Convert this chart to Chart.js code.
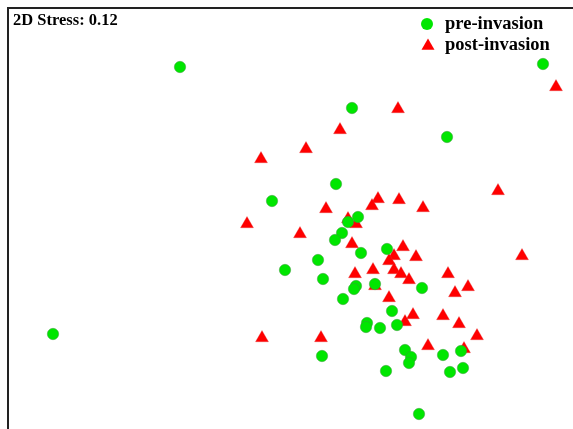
<!DOCTYPE html>
<html>
<head>
<meta charset="utf-8">
<script src="https://cdn.jsdelivr.net/npm/chart.js@4/dist/chart.umd.min.js"></script>
<style>
  html, body { margin: 0; padding: 0; background: #fff; }
  #wrap { width: 573px; height: 429px; }
</style>
</head>
<body>
<div id="wrap"><canvas id="nmds" width="573" height="429"></canvas></div>
<script>
// NMDS ordination scores (arbitrary units)
const preX = [-1.20, 2.43, 0.52, 1.47, 0.36, -0.28, 0.58, 0.48, 0.42, 0.35, 0.61, 0.87, 0.18, -0.15, 0.23, 0.56, 0.54, 0.75, 1.22, 0.43, 0.92, 0.67, 0.66, 0.80, 0.97, 0.22, 1.05, 1.11, 1.09, 0.86, 1.43, 1.61, 1.50, 1.63, 1.19, -2.47];
const preY = [1.53, 1.56, 1.12, 0.83, 0.36, 0.19, 0.03, -0.02, -0.13, -0.20, -0.33, -0.29, -0.40, -0.50, -0.59, -0.66, -0.69, -0.64, -0.68, -0.79, -0.91, -1.03, -1.07, -1.08, -1.05, -1.36, -1.30, -1.37, -1.43, -1.51, -1.35, -1.31, -1.52, -1.48, -1.94, -1.14];

const postX = [2.56, 0.98, 0.40, 0.06, -0.39, 1.98, 0.78, 0.72, 0.99, 1.23, 0.26, -0.53, 0.00, 0.48, 0.56, 0.52, 1.03, 0.94, 1.16, 0.89, 0.73, 0.55, 0.94, 1.01, 1.09, 0.75, 0.89, 1.48, 1.68, 1.55, 1.13, 1.05, 1.43, 1.59, 1.77, 1.28, 1.64, 0.21, -0.38, 2.22];
const postY = [1.33, 1.11, 0.90, 0.71, 0.61, 0.29, 0.21, 0.14, 0.20, 0.12, 0.11, -0.04, -0.14, 0.01, -0.04, -0.24, -0.27, -0.36, -0.37, -0.41, -0.50, -0.54, -0.50, -0.54, -0.60, -0.66, -0.78, -0.54, -0.67, -0.73, -0.95, -1.02, -0.96, -1.04, -1.16, -1.26, -1.29, -1.18, -1.18, -0.36];

const groups = ["pre-invasion", "post-invasion"];
const stressLabel = "2D Stress: 0.12";

const toPoints = (xs, ys) => xs.map((x, i) => ({ x: x, y: ys[i] }));

const serif = "'Liberation Serif', 'Times New Roman', serif";

// frame (top + left only, the rest is cropped), stress note and legend
const overlay = {
  id: "overlay",
  afterDraw(chart) {
    const ctx = chart.ctx;
    const a = chart.chartArea;
    ctx.save();
    ctx.strokeStyle = "#222";
    ctx.lineWidth = 2;
    ctx.beginPath();
    ctx.moveTo(a.left, chart.height);
    ctx.lineTo(a.left, a.top);
    ctx.lineTo(chart.width, a.top);
    ctx.stroke();

    ctx.fillStyle = "#000";
    ctx.font = "bold 16.5px " + serif;
    ctx.textBaseline = "alphabetic";
    ctx.fillText(stressLabel, 13, 25);

    // legend
    ctx.font = "bold 18.5px " + serif;
    ctx.fillStyle = "#00e600";
    ctx.beginPath();
    ctx.arc(427, 24, 6, 0, Math.PI * 2);
    ctx.fill();
    ctx.fillStyle = "#ff0000";
    ctx.beginPath();
    const r = 7.5, cx = 428, cy = 46;
    ctx.moveTo(cx, cy - r);
    ctx.lineTo(cx + r * Math.sin(Math.PI * 2 / 3), cy + r / 2);
    ctx.lineTo(cx - r * Math.sin(Math.PI * 2 / 3), cy + r / 2);
    ctx.closePath();
    ctx.fill();
    ctx.fillStyle = "#000";
    ctx.fillText(groups[0], 445, 29);
    ctx.fillText(groups[1], 445, 50);
    ctx.restore();
  }
};

new Chart(document.getElementById("nmds"), {
  type: "scatter",
  data: {
    datasets: [
      {
        label: groups[0],
        data: toPoints(preX, preY),
        pointStyle: "circle",
        pointRadius: 5.7,
        backgroundColor: "#00e600",
        borderColor: "rgba(60,150,60,0.8)",
        borderWidth: 0.6,
      },
      {
        label: groups[1],
        data: toPoints(postX, postY),
        pointStyle: "triangle",
        pointRadius: 7.5,
        backgroundColor: "#ff0000",
        borderColor: "rgba(220,60,60,0.6)",
        borderWidth: 0.5,
      },
    ],
  },
  options: {
    responsive: false,
    animation: false,
    layout: { autoPadding: false, padding: { left: 8, top: 8, right: 0, bottom: 0 } },
    scales: {
      x: { display: false, min: -2.92, max: 2.73 },
      y: { display: false, min: -2.09, max: 2.12 },
    },
    plugins: {
      legend: { display: false },
      tooltip: { enabled: false },
    },
  },
  plugins: [overlay],
});
</script>
</body>
</html>
